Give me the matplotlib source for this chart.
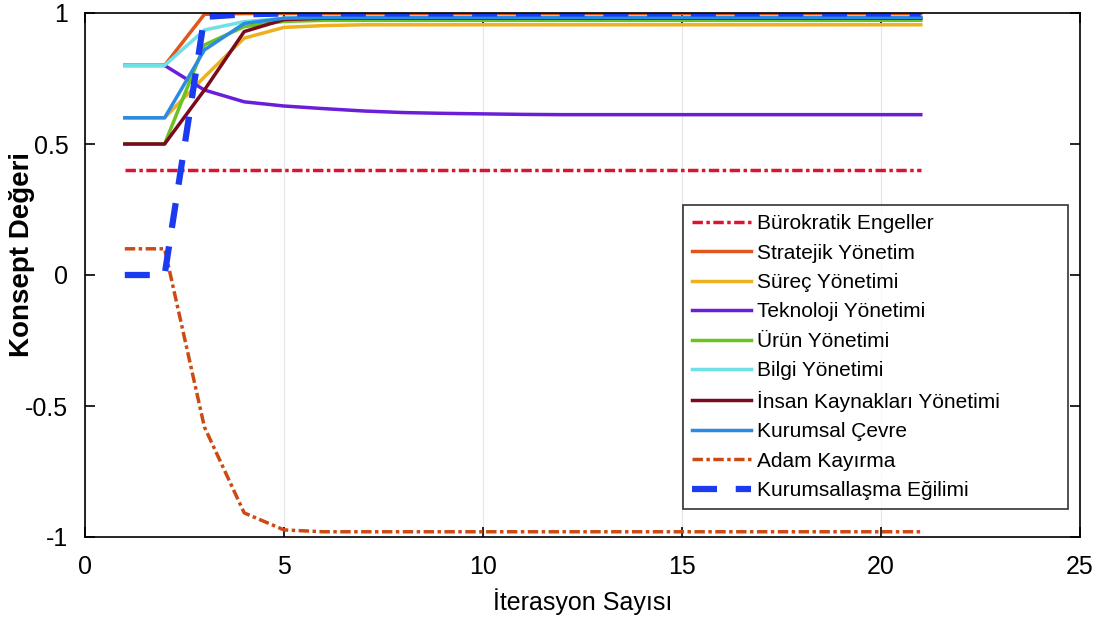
import numpy as np
import matplotlib
matplotlib.use("Agg")
from matplotlib import pyplot as plt

# iterasyon adımları
iterasyon = np.arange(1, 22)

def seri(bas):
    # okunan ilk değerlerden sonra seri son değerinde sabit kalır
    return list(bas) + [bas[-1]] * (21 - len(bas))

burokratik = seri([0.40, 0.40, 0.40])
stratejik = seri([0.80, 0.80, 0.995, 0.998, 0.998])
surec = seri([0.60, 0.60, 0.756, 0.904, 0.945, 0.952, 0.955])
teknoloji = seri([0.80, 0.80, 0.706, 0.661, 0.645, 0.635, 0.626, 0.620, 0.617,
                  0.615, 0.613, 0.612, 0.612])
urun = seri([0.50, 0.50, 0.878, 0.948, 0.968, 0.972])
bilgi = seri([0.80, 0.80, 0.935, 0.967, 0.980, 0.982])
insan = seri([0.50, 0.50, 0.706, 0.929, 0.975, 0.980])
kurumsal_cevre = seri([0.60, 0.60, 0.859, 0.960, 0.980, 0.983])
adam_kayirma = seri([0.10, 0.10, -0.58, -0.908, -0.973, -0.980])
egilim = seri([0.0, 0.0, 0.985, 0.995, 0.998])

etiketler = ["Bürokratik Engeller", "Stratejik Yönetim", "Süreç Yönetimi",
             "Teknoloji Yönetimi", "Ürün Yönetimi", "Bilgi Yönetimi",
             "İnsan Kaynakları Yönetimi", "Kurumsal Çevre", "Adam Kayırma",
             "Kurumsallaşma Eğilimi"]

x_ticks = [0, 5, 10, 15, 20, 25]
y_ticks = [-1, -0.5, 0, 0.5, 1]
y_tick_labels = ["-1", "-0.5", "0", "0.5", "1"]

plt.rcParams["font.family"] = ["Liberation Sans", "DejaVu Sans"]

fig = plt.figure(figsize=(11.09, 6.39), dpi=100)
ax = fig.add_axes([85 / 1109, 1 - 537 / 639, (1080 - 85) / 1109, (537 - 13) / 639])

noktali = (0, (3, 1, 1, 1))
ax.plot(iterasyon, burokratik, color="#DC1430", lw=2.5, ls=noktali)
ax.plot(iterasyon, stratejik, color="#E0561E", lw=2.5)
ax.plot(iterasyon, surec, color="#EDB120", lw=2.5)
ax.plot(iterasyon, teknoloji, color="#6A1ED8", lw=2.5)
ax.plot(iterasyon, urun, color="#6CC21F", lw=2.5)
ax.plot(iterasyon, bilgi, color="#6FE0E6", lw=2.5)
ax.plot(iterasyon, insan, color="#7A0A1E", lw=2.5)
ax.plot(iterasyon, kurumsal_cevre, color="#2A8BE0", lw=2.5)
ax.plot(iterasyon, adam_kayirma, color="#CC4A14", lw=2.5, ls=noktali)
ax.plot(iterasyon, egilim, color="#1A3BF0", lw=4.5, ls=(0, (4, 3)))

ax.set_xlim(0, 25)
ax.set_ylim(-1, 1)
ax.set_xticks(x_ticks)
ax.set_yticks(y_ticks)
ax.set_yticklabels(y_tick_labels)
ax.tick_params(direction="in", length=7, width=1.2, labelsize=18,
               top=True, right=True)
ax.tick_params(axis="x", pad=13)
ax.tick_params(axis="y", pad=12)
ax.grid(axis="x", color="#E6E6E6", lw=0.8)
ax.set_axisbelow(True)
for s in ax.spines.values():
    s.set_linewidth(1.2)

ax.set_xlabel("İterasyon Sayısı", fontsize=18)
ax.xaxis.set_label_coords(0.5, -0.098)
ax.set_ylabel("Konsept Değeri", fontsize=20, fontweight="bold")
ax.yaxis.set_label_coords(-0.05, 0.54)

leg = ax.legend(etiketler, loc="upper left",
                bbox_to_anchor=(0.601, 0.048, 0.387, 0.586), mode="expand",
                borderaxespad=0, fontsize=15, frameon=True, fancybox=False,
                edgecolor="black", handlelength=2.8, labelspacing=0.5,
                borderpad=0.45, handletextpad=0.3)
leg.get_frame().set_linewidth(1.2)

fig.savefig("out.png", dpi=100)
